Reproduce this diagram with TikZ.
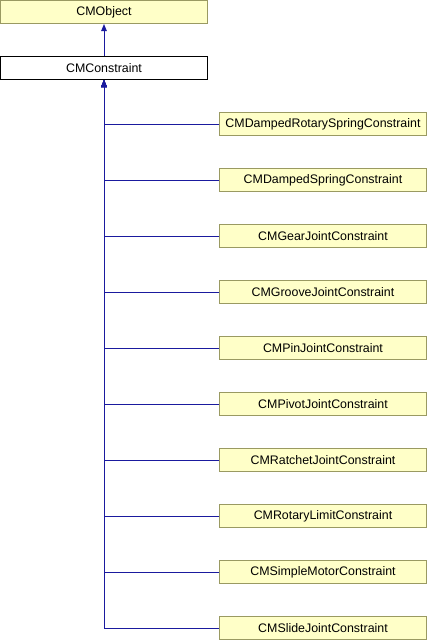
\documentclass[tikz,border=0pt]{standalone}
\usepackage{fontspec}
\setmainfont{Liberation Sans}
\usetikzlibrary{arrows.meta}
\definecolor{boxfill}{HTML}{FFFFC8}
\definecolor{boxline}{HTML}{9A9A62}
\definecolor{edgecol}{HTML}{1A1A9E}
\tikzset{
  cls/.style={draw=boxline, fill=boxfill, line width=1pt, minimum width=207pt, minimum height=23pt, inner sep=0pt, font=\fontsize{12.4}{14}\selectfont, anchor=center},
  cur/.style={cls, draw=black, fill=white},
  inh/.style={draw=edgecol, line width=1pt, -{Triangle[length=7pt,width=5.5pt]}},
}
\begin{document}
\begin{tikzpicture}[x=1pt,y=-1pt]
\useasboundingbox (0,0) rectangle (428,640);
\node[cls] (obj) at (104,12) {CMObject};
\node[cur] (con) at (104,68) {CMConstraint};
\draw[inh] (con.north) -- (obj.south);
\foreach \name [count=\i from 0] in {CMDampedRotarySpringConstraint,CMDampedSpringConstraint,CMGearJointConstraint,CMGrooveJointConstraint,CMPinJointConstraint,CMPivotJointConstraint,CMRatchetJointConstraint,CMRotaryLimitConstraint,CMSimpleMotorConstraint,CMSlideJointConstraint}{
  \node[cls] (c\i) at (323,124+56*\i) {\name};
  \coordinate (b\i) at (104,124+56*\i);
  \draw[inh] (c\i.west) -- (b\i) -- (con.south);
}
\end{tikzpicture}
\end{document}
